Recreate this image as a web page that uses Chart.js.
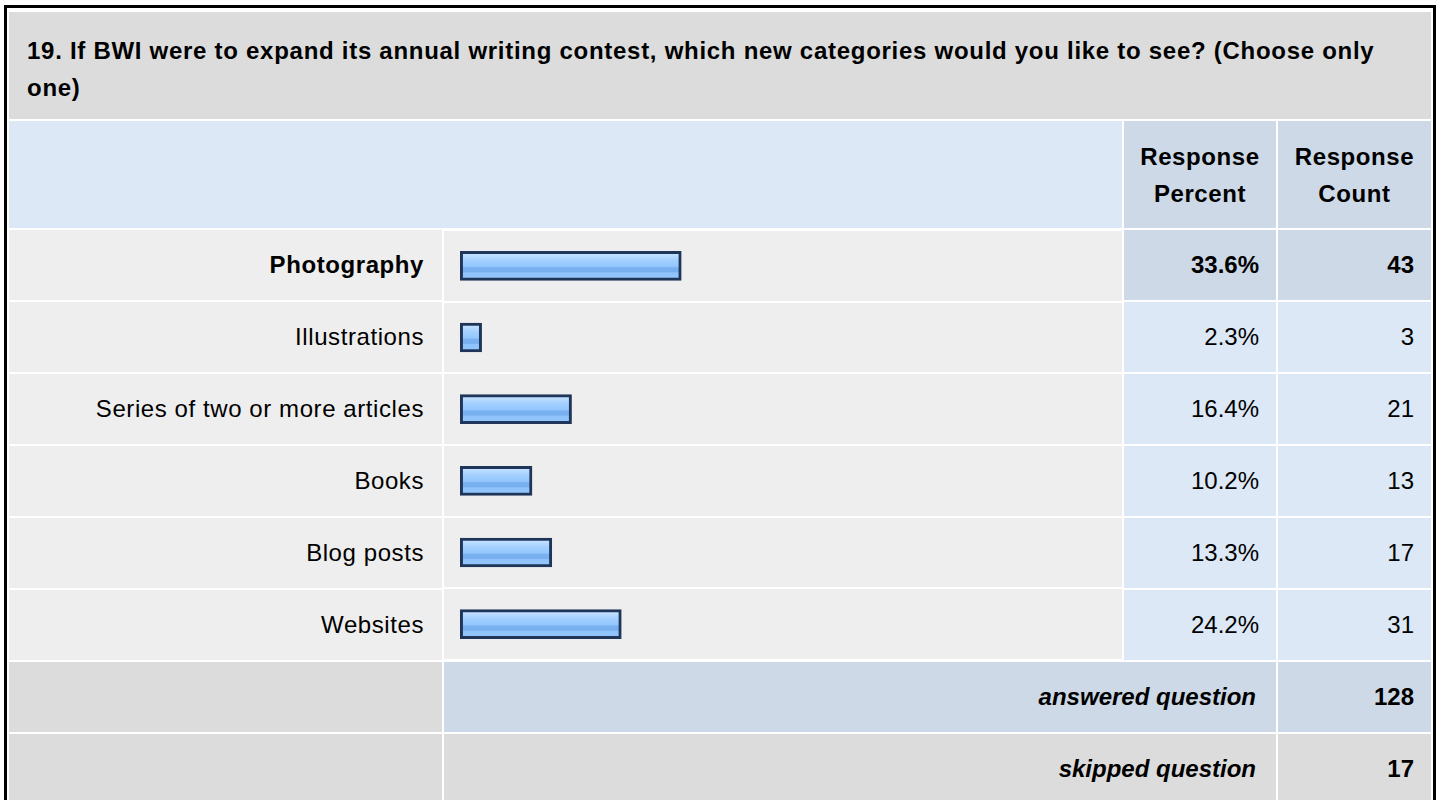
<!DOCTYPE html>
<html>
<head>
<meta charset="utf-8">
<script src="https://cdn.jsdelivr.net/npm/chart.js@4.4.1/dist/chart.umd.min.js"></script>
<style>
html, body { margin:0; padding:0; background:#fff; width:1440px; height:800px; overflow:hidden; }
body { font-family:"Liberation Sans", Arial, Helvetica, sans-serif; color:#000; }
table.q { position:absolute; left:4px; top:5px; width:1432px; border:3px solid #000; border-collapse:separate; border-spacing:2px; padding:2px 0 0 0; table-layout:fixed; font-size:24px; background:#fff; }
table.q td { padding:0; overflow:hidden; white-space:nowrap; }
td.title { background:#dcdcdc; font-weight:bold; line-height:37px; padding:6px 0 0 18px !important; vertical-align:middle; white-space:normal !important; letter-spacing:0.72px; }
td.hdrL { background:#dce8f5; }
td.hdr { background:#cdd9e6; font-weight:bold; text-align:center; line-height:37px; vertical-align:middle; letter-spacing:0.6px; }
td.lab { background:#eeeeee; text-align:right; padding-right:18px !important; vertical-align:middle; letter-spacing:0.58px; }
td.num { background:#dce8f5; text-align:right; padding-right:17px !important; vertical-align:middle; }
td.num.hi { background:#cdd9e6; font-weight:bold; }
td.bold { font-weight:bold; }
td.barcell { background:#eeeeee; vertical-align:top; }
td.foot { background:#dcdcdc; }
td.footTxt { text-align:right; padding-right:20px !important; font-weight:bold; font-style:italic; vertical-align:middle; }
td.footNum { text-align:right; padding-right:17px !important; font-weight:bold; vertical-align:middle; }
.blue { background:#cdd9e6 !important; }
.grey { background:#dcdcdc !important; }
#chartWrap { position:relative; width:678px; height:430px; }
</style>
</head>
<body>
<script>
// ---- data ----
const questionTitle = "19. If BWI were to expand its annual writing contest, which new categories would you like to see? (Choose only";
const questionTitleEnd = "one)";
const columnHeaders = ["Response\nPercent", "Response\nCount"];
const categories = ["Photography", "Illustrations", "Series of two or more articles", "Books", "Blog posts", "Websites"];
const responsePercent = [33.6, 2.3, 16.4, 10.2, 13.3, 24.2];
const responseCount = [43, 3, 21, 13, 17, 31];
const summaryLabels = ["answered question", "skipped question"];
const summaryCounts = [128, 17];
</script>

<table class="q" id="tbl">
<colgroup><col style="width:433px"><col style="width:678px"><col style="width:152px"><col style="width:153px"></colgroup>
<tbody id="tb"></tbody>
</table>

<script>
const tb = document.getElementById('tb');
function el(tag, cls, html) { const e = document.createElement(tag); if (cls) e.className = cls; if (html !== undefined) e.innerHTML = html; return e; }

// title row
let tr = el('tr'); tr.style.height = '107px';
let td = el('td', 'title'); td.colSpan = 4;
td.appendChild(document.createTextNode(questionTitle));
td.appendChild(document.createElement('br'));
td.appendChild(document.createTextNode(questionTitleEnd));
tr.appendChild(td); tb.appendChild(tr);

// header row
tr = el('tr'); tr.style.height = '107px';
td = el('td', 'hdrL'); td.colSpan = 2; tr.appendChild(td);
columnHeaders.forEach(h => { const c = el('td', 'hdr', h.replace('\n', '<br>')); tr.appendChild(c); });
tb.appendChild(tr);

// data rows
const maxIdx = responsePercent.indexOf(Math.max(...responsePercent));
categories.forEach((cat, i) => {
  const r = el('tr'); r.style.height = '70px';
  const l = el('td', 'lab' + (i === maxIdx ? ' bold' : '')); l.textContent = cat; r.appendChild(l);
  if (i === 0) {
    const b = el('td', 'barcell'); b.rowSpan = categories.length;
    const w = el('div'); w.id = 'chartWrap';
    const cv = el('canvas'); cv.id = 'bars';
    w.appendChild(cv); b.appendChild(w); r.appendChild(b);
  }
  const p = el('td', 'num' + (i === maxIdx ? ' hi' : '')); p.textContent = responsePercent[i].toFixed(1) + '%'; r.appendChild(p);
  const n = el('td', 'num' + (i === maxIdx ? ' hi' : '')); n.textContent = responseCount[i]; r.appendChild(n);
  tb.appendChild(r);
});

// summary rows
summaryLabels.forEach((s, i) => {
  const r = el('tr'); r.style.height = '70px';
  r.appendChild(el('td', 'foot'));
  const t = el('td', 'footTxt ' + (i === 0 ? 'blue' : 'grey')); t.colSpan = 2; t.textContent = s; r.appendChild(t);
  const n = el('td', 'footNum ' + (i === 0 ? 'blue' : 'grey')); n.textContent = summaryCounts[i]; r.appendChild(n);
  tb.appendChild(r);
});

// ---- chart ----
const BAR_H = 29;
function barGradient(c) {
  const chart = c.chart;
  const ys = chart.scales && chart.scales.y;
  if (!ys || ys.top === undefined) return '#92c5fd';
  const cy = ys.getPixelForValue(c.dataIndex);
  const g = chart.ctx.createLinearGradient(0, cy - BAR_H / 2, 0, cy + BAR_H / 2);
  g.addColorStop(0.00, '#d2e8ff');
  g.addColorStop(0.18, '#b6daff');
  g.addColorStop(0.32, '#a2cfff');
  g.addColorStop(0.52, '#93c6fd');
  g.addColorStop(0.56, '#7ab2f1');
  g.addColorStop(0.70, '#76aeee');
  g.addColorStop(0.74, '#8ec3fb');
  g.addColorStop(1.00, '#94c7fc');
  return g;
}

new Chart(document.getElementById('bars'), {
  type: 'bar',
  data: {
    labels: categories,
    datasets: [{
      data: responsePercent,
      base: -1.05,
      barThickness: BAR_H,
      backgroundColor: barGradient,
      borderColor: '#1f365a',
      borderWidth: 3,
      borderSkipped: false
    }]
  },
  options: {
    indexAxis: 'y',
    responsive: true,
    maintainAspectRatio: false,
    animation: false,
    layout: { padding: { left: 0, right: 0, top: -3, bottom: 0 } },
    plugins: { legend: { display: false }, tooltip: { enabled: false } },
    scales: {
      x: { type: 'linear', min: -3.6, max: 102.7, display: false },
      y: {
        display: true,
        ticks: { display: false },
        grid: { color: '#ffffff', lineWidth: 2, drawTicks: false, offset: true },
        border: { display: false }
      }
    }
  }
});
</script>
</body>
</html>
